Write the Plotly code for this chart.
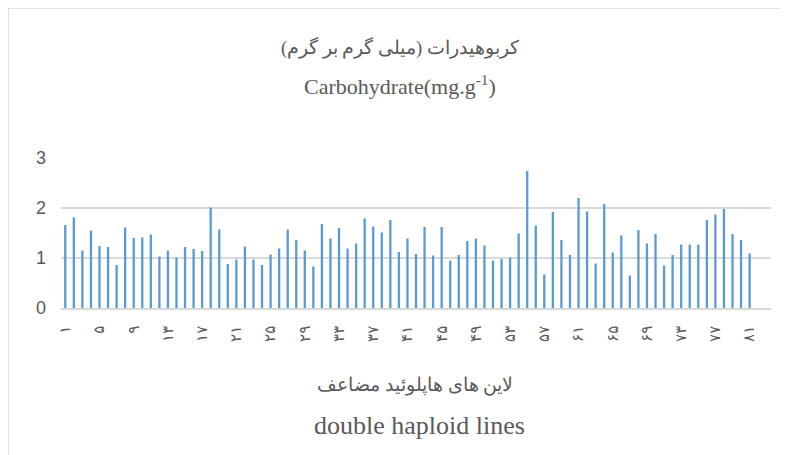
import plotly.graph_objects as go

# Carbohydrate values (mg/g) for double haploid lines 1..81
lines = list(range(1, 82))
carbohydrate = [
    1.66, 1.81, 1.15, 1.55, 1.24, 1.22, 0.86, 1.61, 1.40, 1.41,
    1.47, 1.03, 1.15, 1.01, 1.22, 1.18, 1.14, 2.01, 1.57, 0.88,
    0.97, 1.23, 0.97, 0.86, 1.07, 1.19, 1.57, 1.36, 1.15, 0.83,
    1.68, 1.39, 1.60, 1.19, 1.29, 1.79, 1.63, 1.51, 1.76, 1.12,
    1.39, 1.08, 1.62, 1.05, 1.62, 0.95, 1.06, 1.34, 1.39, 1.25,
    0.95, 0.98, 1.01, 1.49, 2.74, 1.65, 0.67, 1.92, 1.36, 1.06,
    2.20, 1.93, 0.89, 2.08, 1.11, 1.45, 0.65, 1.56, 1.29, 1.48,
    0.85, 1.06, 1.27, 1.27, 1.27, 1.76, 1.87, 1.98, 1.48, 1.36,
    1.09,
]
n_categories = 83  # axis holds two empty slots after the last line
tick_values = list(range(1, 82, 4))
persian_digits = str.maketrans("0123456789", "۰۱۲۳۴۵۶۷۸۹")
tick_labels = [str(v).translate(persian_digits) for v in tick_values]

title_fa = "کربوهیدرات (میلی گرم بر گرم)"
title_en = "Carbohydrate(mg.g<sup>-1</sup>)"
xtitle_fa = "لاین های هاپلوئید مضاعف"
xtitle_en = "double haploid lines"

OFF = 8  # page body margin
W, H = 788 - OFF, 455 - OFF
L, R, T, B = 61 - OFF, 17, 158 - OFF, 147
pw, ph = W - L - R, H - T - B

def px(x):
    return (x - OFF - L) / pw

def py(y):
    return (H - B - (y - OFF)) / ph

grey = "#595959"
serif = "Liberation Serif"

fig = go.Figure()
fig.add_trace(go.Bar(
    x=lines, y=carbohydrate,
    marker=dict(color="#5B9BD5", line=dict(width=0)),
    width=0.27,
))

fig.update_layout(
    width=W, height=H,
    margin=dict(l=L, r=R, t=T, b=B),
    paper_bgcolor="white", plot_bgcolor="white",
    showlegend=False,
    font=dict(family=serif, color=grey),
    xaxis=dict(
        range=[0.5, n_categories + 0.5],
        tickmode="array", tickvals=tick_values, ticktext=tick_labels,
        tickangle=-90, ticks="", ticklabelstandoff=10,
        tickfont=dict(family="DejaVu Sans", size=15, color=grey),
        showgrid=False, zeroline=False,
        showline=True, linecolor="#d9d9d9", linewidth=1.5,
    ),
    yaxis=dict(
        range=[0, 3], tickvals=[0, 1, 2, 3],
        tickfont=dict(family="Liberation Sans", size=18, color=grey),
        showgrid=True, gridcolor="#d9d9d9", gridwidth=1.5,
        zeroline=False, showline=False, ticks="", ticklabelstandoff=14,
    ),
)

ann = [
    (title_fa, 400, 48, 18.5),
    (title_en, 400, 85, 22),
    (xtitle_fa, 415, 385, 19),
    (xtitle_en, 419, 425, 26),
]
for text, x, y, size in ann:
    fig.add_annotation(
        text=text, xref="paper", yref="paper",
        x=px(x), y=py(y), xanchor="center", yanchor="middle",
        showarrow=False, font=dict(family=serif, size=size, color=grey),
    )

fig.add_shape(
    type="rect", xref="paper", yref="paper",
    x0=px(8), y0=py(470), x1=px(800), y1=py(8),
    line=dict(color="#d9d9d9", width=1.5), fillcolor="rgba(0,0,0,0)",
    layer="below",
)

fig.write_html("out.html")
